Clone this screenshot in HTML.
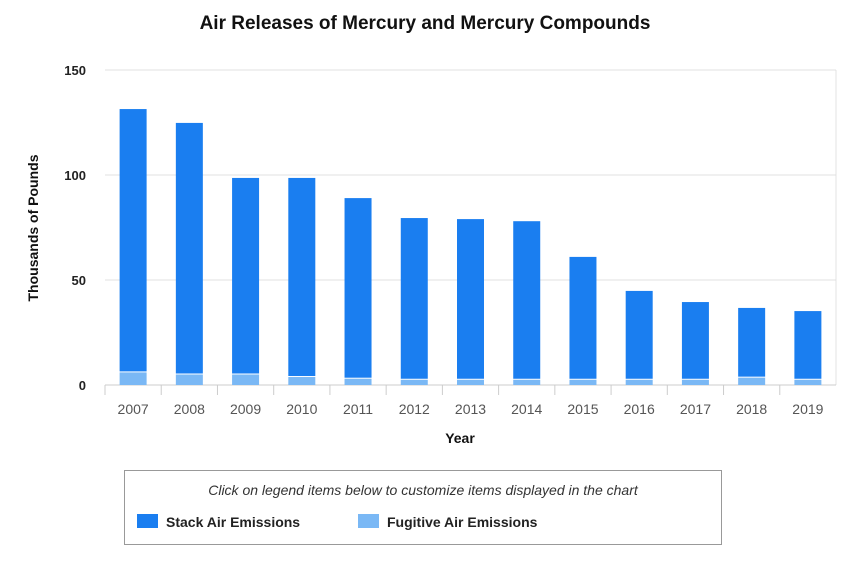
<!DOCTYPE html>
<html><head><meta charset="utf-8"><style>
body{margin:0;background:#fff;font-family:"Liberation Sans","DejaVu Sans",sans-serif}
</style></head><body>
<svg width="850" height="567" xmlns="http://www.w3.org/2000/svg">
<text x="425" y="29" text-anchor="middle" font-size="19" font-weight="bold" fill="#111">Air Releases of Mercury and Mercury Compounds</text>
<g id="grid"></g><g id="bars"></g><g id="xaxis"></g>
<text transform="translate(38,228) rotate(-90)" text-anchor="middle" font-size="14" font-weight="bold" fill="#111">Thousands of Pounds</text>
<text x="460" y="443" text-anchor="middle" font-size="14" font-weight="bold" fill="#111">Year</text>
<g>
<rect x="124.5" y="470.5" width="597" height="74" fill="#fff" stroke="#999"/>
<text x="423" y="495" text-anchor="middle" font-size="14" font-style="italic" fill="#333">Click on legend items below to customize items displayed in the chart</text>
<g><rect x="137" y="514" width="21" height="14" fill="#1a7ef0"/><text x="166" y="527" font-size="14" font-weight="bold" fill="#222">Stack Air Emissions</text></g>
<g><rect x="358" y="514" width="21" height="14" fill="#7ab8f5"/><text x="387" y="527" font-size="14" font-weight="bold" fill="#222">Fugitive Air Emissions</text></g>
</g>
</svg>
<script>
const years=["2007","2008","2009","2010","2011","2012","2013","2014","2015","2016","2017","2018","2019"];
const stack=[125.4,119.8,93.6,94.8,86,77,76.5,75.5,58.5,42.3,37,33.2,32.7];
const fugitive=[6,5,5,3.8,3,2.5,2.5,2.5,2.5,2.5,2.5,3.5,2.5];
const yTicks=[0,50,100,150];
const NS="http://www.w3.org/2000/svg";
const x0=105,x1=836,y0=385,yTop=70,yMax=150;
const band=(x1-x0)/years.length;
const y=v=>y0-(v/yMax)*(y0-yTop);
const xc=i=>x0+band*(i+0.5);
function mk(tag,attrs,parent){const e=document.createElementNS(NS,tag);for(const k in attrs)e.setAttribute(k,attrs[k]);parent.appendChild(e);return e;}
const grid=document.getElementById('grid'),bars=document.getElementById('bars'),xa=document.getElementById('xaxis');
mk('line',{x1:x1,y1:yTop,x2:x1,y2:y0,stroke:'#e3e3e3'},grid);
yTicks.forEach(t=>{
  const l=mk('line',{x1:x0,x2:x1,y1:y(t),y2:y(t),stroke:t===0?'#ccc':'#e0e0e0'},grid);
  
  
  const tx=mk('text',{x:86,y:y(t)+5,'text-anchor':'end','font-size':13,'font-weight':'bold',fill:'#222'},grid);
  tx.textContent=t;
  
  
});
years.forEach((yr,i)=>{
  const w=27,bx=xc(i)-w/2;
  const f=mk('rect',{x:bx,y:y(fugitive[i]),width:w,height:y0-y(fugitive[i]),fill:'#7ab8f5'},bars);
  
  
  const s=mk('rect',{x:bx,y:y(fugitive[i]+stack[i]),width:w,height:y(fugitive[i])-y(fugitive[i]+stack[i])-1,fill:'#1a7ef0'},bars);
  
  
  const tk=mk('line',{x1:x0+band*i,x2:x0+band*i,y1:y0,y2:y0+10,stroke:'#ccc'},xa);
  
  
  const t=mk('text',{x:xc(i),y:414,'text-anchor':'middle','font-size':14,fill:'#555'},xa);
  t.textContent=yr;
  
  
});
</script>
</body></html>
